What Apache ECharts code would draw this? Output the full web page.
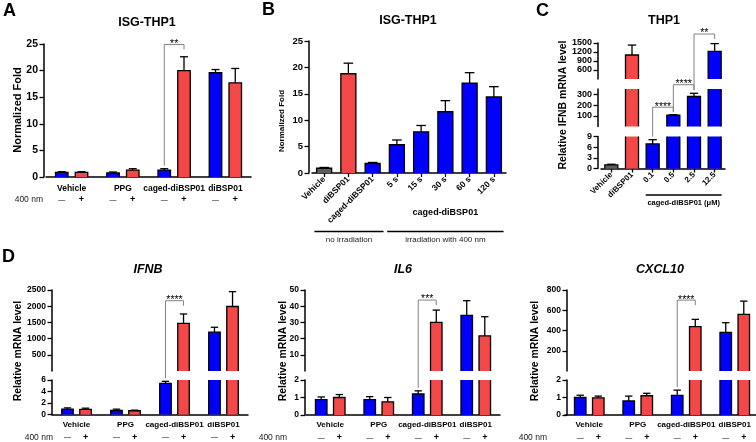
<!DOCTYPE html>
<html>
<head>
<meta charset="utf-8">
<script src="https://cdn.jsdelivr.net/npm/echarts@6/dist/echarts.min.js"></script>
<style>
  html, body { margin: 0; background: #fff; }
  #chart { width: 756px; height: 442px; }
</style>
</head>
<body>
<div id="chart"></div>
<script>
// ---- data ----
// A: ISG-THP1, normalized fold, without (—) / with (+) 400 nm
const groupCats = ['Vehicle', 'PPG', 'caged-diBSP01', 'diBSP01'];
const aDark = [0.88, 0.75, 1.3, 19.6];
const aDarkErr = [0.12, 0.19, 0.26, 0.6];
const aLight = [0.88, 1.3, 20.0, 17.7];
const aLightErr = [0.12, 0.26, 2.6, 2.7];

// B: irradiation time course
const bCats = ['Vehicle', 'diBSP01', 'caged-diBSP01', '5 s', '15 s', '30 s', '60 s', '120 s'];
const bVals = [0.9, 18.8, 1.8, 5.35, 7.8, 11.6, 17.0, 14.4];
const bErr = [0.15, 2.0, 0.2, 0.9, 1.2, 2.1, 2.0, 1.95];

// C: THP1, relative IFNB mRNA, dose series
const cCats = ['Vehicle', 'diBSP01', '0.1', '0.5', '2.5', '12.5'];
const cVals = [1.0, 1100, 6.9, 105, 280, 1220];
const cErr = [0.2, 330, 1.2, 5, 30, 260];

// D: relative mRNA levels
const ifnbDark = [0.93, 0.7, 5.4, 1200];
const ifnbDarkErr = [0.22, 0.23, 0.37, 150];
const ifnbLight = [0.9, 0.65, 1470, 1990];
const ifnbLightErr = [0.2, 0.1, 290, 460];
const il6Dark = [0.88, 0.88, 1.2, 34.3];
const il6DarkErr = [0.15, 0.17, 0.18, 9.1];
const il6Light = [1.0, 0.75, 30.0, 21.7];
const il6LightErr = [0.17, 0.25, 7.6, 11.8];
const cxclDark = [1.0, 0.8, 1.12, 382];
const cxclDarkErr = [0.13, 0.28, 0.3, 95];
const cxclLight = [0.98, 1.1, 438, 560];
const cxclLightErr = [0.1, 0.14, 72, 130];

const FONT = '"Liberation Sans", Arial, Helvetica, sans-serif';
const BLUE = '#0000ff', RED = '#f44848', GRAY = '#5e5e5e';
const bColors = [GRAY, RED, BLUE, BLUE, BLUE, BLUE, BLUE, BLUE];
const cColors = [GRAY, RED, BLUE, BLUE, BLUE, BLUE];

const chart = echarts.init(document.getElementById('chart'));

// ---- panel layouts ----
const pA = {
  cats: groupCats, left: 46, width: 205, shift: 2, bw: 12.5, gap: 58,
  tickFont: 10.5, catFont: 8.5, catMargin: 7, rotate: 0, xTicks: false,
  segs: [{ top: 44, height: 133, min: 0, max: 25, interval: 5 }],
  series: [{ data: aDark, err: aDarkErr, color: BLUE }, { data: aLight, err: aLightErr, color: RED }]
};
const pB = {
  cats: bCats, left: 312, width: 194, shift: 3, bw: 15, gap: 0,
  tickFont: 9.5, catFont: 8.5, catMargin: 5, rotate: 45, xTicks: true,
  segs: [{ top: 41, height: 132, min: 0, max: 25, interval: 5 }],
  series: [{ data: bVals, err: bErr, color: bColors }]
};
const pC = {
  cats: cCats, left: 601, width: 124, shift: 3, bw: 13, gap: 0,
  tickFont: 9, catFont: 8, catMargin: 5, rotate: 45, xTicks: true,
  segs: [
    { top: 43, height: 36, min: 300, max: 1500, interval: 300 },
    { top: 89, height: 37.5, min: 0, max: 350, interval: 100, hideMax: true },
    { top: 136.5, height: 32, min: 0, max: 9, interval: 3 }
  ],
  series: [{ data: cVals, err: cErr, color: cColors }]
};
const pIfnb = {
  cats: groupCats, left: 52, width: 196, shift: 0, bw: 11.5, gap: 57,
  tickFont: 8.5, catFont: 8, catMargin: 6, rotate: 0, xTicks: false,
  segs: [
    { top: 290, height: 81, min: 0, max: 2500, interval: 500 },
    { top: 380, height: 34.5, min: 0, max: 6, interval: 2 }
  ],
  series: [{ data: ifnbDark, err: ifnbDarkErr, color: BLUE }, { data: ifnbLight, err: ifnbLightErr, color: RED }]
};
const pIl6 = {
  cats: groupCats, left: 306, width: 194, shift: 1, bw: 11.5, gap: 57,
  tickFont: 8.5, catFont: 8, catMargin: 6, rotate: 0, xTicks: false,
  segs: [
    { top: 290, height: 81, min: 0, max: 50, interval: 10 },
    { top: 380, height: 35, min: 0, max: 2, interval: 1 }
  ],
  series: [{ data: il6Dark, err: il6DarkErr, color: BLUE }, { data: il6Light, err: il6LightErr, color: RED }]
};
const pCxcl = {
  cats: groupCats, left: 565, width: 194, shift: -2, bw: 11.5, gap: 57,
  tickFont: 8.5, catFont: 8, catMargin: 6, rotate: 0, xTicks: false,
  segs: [
    { top: 290, height: 81, min: 0, max: 800, interval: 200 },
    { top: 380, height: 35, min: 0, max: 2, interval: 1 }
  ],
  series: [{ data: cxclDark, err: cxclDarkErr, color: BLUE }, { data: cxclLight, err: cxclLightErr, color: RED }]
};
const panels = [pA, pB, pC, pIfnb, pIl6, pCxcl];

// significance brackets: [category, series] of both ends, segment and level of the top bar
const brackets = [
  { p: pA, a: [2, 0], b: [2, 1], seg: 0, level: 24.9, text: '**' },
  { p: pC, a: [2, 0], b: [3, 0], seg: 1, level: 180, text: '****' },
  { p: pC, a: [3, 0], b: [4, 0], seg: 1, level: 390, text: '****' },
  { p: pC, a: [4, 0], b: [5, 0], seg: 0, level: 1800, text: '**' },
  { p: pIfnb, a: [2, 0], b: [2, 1], seg: 0, level: 2170, text: '****' },
  { p: pIl6, a: [2, 0], b: [2, 1], seg: 0, level: 43.8, text: '***' },
  { p: pCxcl, a: [2, 0], b: [2, 1], seg: 0, level: 700, text: '****' }
];

function barX(p, k) {
  const n = p.series.length;
  return (k - (n - 1) / 2) * p.bw * (1 + p.gap / 100);
}
function floorOf(p, s) {
  return s === p.segs.length - 1 ? -Infinity : p.segs[s + 1].max;
}
function segOf(p, v) {
  for (let s = 0; s < p.segs.length; s++) {
    if (v > floorOf(p, s)) return s;
  }
  return p.segs.length - 1;
}

const grid = [], xAxis = [], yAxis = [], series = [];
panels.forEach(p => {
  p.gridIdx = [];
  p.segs.forEach((s, si) => {
    const gi = grid.length;
    const isBottom = si === p.segs.length - 1;
    const isTop = si === 0;
    const floor = floorOf(p, si);
    p.gridIdx.push(gi);
    grid.push({ left: p.left, top: s.top, width: p.width, height: s.height, outerBoundsMode: 'none' });
    xAxis.push({
      type: 'category', gridIndex: gi, data: p.cats, show: isBottom,
      axisLine: { onZero: false, lineStyle: { color: '#000', width: 1.5 } },
      axisTick: { show: p.xTicks, alignWithLabel: true, length: 4, lineStyle: { color: '#000', width: 1.3 } },
      axisLabel: {
        interval: 0, rotate: p.rotate, margin: p.catMargin, color: '#000',
        fontSize: p.catFont, fontWeight: 'bold', fontFamily: FONT
      },
      splitLine: { show: false }
    });
    yAxis.push({
      type: 'value', gridIndex: gi, min: s.min, max: s.max, interval: s.interval, offset: p.shift,
      axisLine: { show: true, onZero: false, lineStyle: { color: '#000', width: 1.5 } },
      axisTick: { show: true, length: 4.5, lineStyle: { color: '#000', width: 1.3 } },
      axisLabel: {
        margin: 6, color: '#000', fontSize: p.tickFont, fontWeight: 'bold', fontFamily: FONT,
        showMinLabel: isBottom, showMaxLabel: !s.hideMax,
        formatter: v => String(v)
      },
      splitLine: { show: false }
    });
    p.series.forEach((sr, k) => {
      const colorAt = i => Array.isArray(sr.color) ? sr.color[i] : sr.color;
      // filled bars, clipped to the segment
      series.push({
        type: 'bar', xAxisIndex: gi, yAxisIndex: gi, barWidth: p.bw, barGap: p.gap + '%',
        clip: true, silent: true,
        itemStyle: { borderWidth: 0 },
        data: sr.data.map((v, i) => v > floor ? { value: v, itemStyle: { color: colorAt(i) } } : '-')
      });
      // bar outline (open at the axis breaks) and error bar
      const off = barX(p, k);
      const half = p.bw / 2;
      const cap = p.bw * 0.32;
      series.push({
        type: 'custom', xAxisIndex: gi, yAxisIndex: gi, z: 5, silent: true, clip: false,
        encode: { x: 0, y: 1 },
        data: sr.data.map((v, i) => [i, v, sr.err[i]]).filter(d => d[1] > floor),
        renderItem: (params, api) => {
          const c = api.value(0), v = api.value(1), e = api.value(2);
          const inside = v <= s.max || isTop;
          const base = api.coord([c, Math.max(0, s.min)]);
          const top = api.coord([c, Math.min(v, s.max)]);
          const x = base[0] + off;
          const st = { stroke: '#000', lineWidth: 1.3, fill: null };
          const children = [];
          if (inside) {
            children.push({ type: 'polyline', shape: { points: [[x - half, base[1]], [x - half, top[1]], [x + half, top[1]], [x + half, base[1]]] }, style: st });
            const p1 = api.coord([c, v + e]);
            children.push({ type: 'line', shape: { x1: x, y1: top[1], x2: x, y2: p1[1] }, style: st });
            children.push({ type: 'line', shape: { x1: x - cap, y1: p1[1], x2: x + cap, y2: p1[1] }, style: st });
          } else {
            children.push({ type: 'line', shape: { x1: x - half, y1: base[1], x2: x - half, y2: top[1] }, style: st });
            children.push({ type: 'line', shape: { x1: x + half, y1: base[1], x2: x + half, y2: top[1] }, style: st });
          }
          return { type: 'group', children };
        }
      });
    });
  });
});

chart.setOption({
  animation: false,
  backgroundColor: '#fff',
  textStyle: { fontFamily: FONT },
  grid, xAxis, yAxis, series
});

// ---- annotations placed from the axes ----
function toPx(p, s, cat, val) {
  return chart.convertToPixel({ gridIndex: p.gridIdx[s] }, [cat, val]);
}
function barTop(p, cat, k) {
  const sr = p.series[k];
  const v = sr.data[cat] + sr.err[cat];
  const pt = toPx(p, segOf(p, sr.data[cat]), cat, v);
  return [pt[0] + barX(p, k), pt[1]];
}
function text(t, x, y, font, align, vAlign, extra, color) {
  return Object.assign({
    type: 'text', x, y, silent: true,
    style: {
      text: t, font: font + ' ' + FONT, fill: color || '#000',
      align, textAlign: align, verticalAlign: vAlign, textVerticalAlign: vAlign
    }
  }, extra || {});
}
function line(x1, y1, x2, y2, color, w) {
  return { type: 'line', silent: true, shape: { x1, y1, x2, y2 }, style: { stroke: color, lineWidth: w } };
}

const g = [];
// panel letters and titles
g.push(text('A', 3, 11, 'bold 18px', 'left', 'middle'));
g.push(text('B', 262, 10, 'bold 18px', 'left', 'middle'));
g.push(text('C', 536, 11, 'bold 18px', 'left', 'middle'));
g.push(text('D', 2, 257, 'bold 18px', 'left', 'middle'));
g.push(text('ISG-THP1', 147, 23, 'bold 12.5px', 'center', 'middle'));
g.push(text('ISG-THP1', 408, 21, 'bold 12.5px', 'center', 'middle'));
g.push(text('THP1', 664, 21, 'bold 12.5px', 'center', 'middle'));
g.push(text('IFNB', 148, 270, 'italic bold 12.5px', 'center', 'middle'));
g.push(text('IL6', 403, 270, 'italic bold 12.5px', 'center', 'middle'));
g.push(text('CXCL10', 660, 270, 'italic bold 12.5px', 'center', 'middle'));

// y axis names
const rot = { rotation: Math.PI / 2 };
g.push(text('Normalized Fold', 18, 110, 'bold 11px', 'center', 'middle', rot));
g.push(text('Normalized Fold', 282, 121, 'bold 8px', 'center', 'middle', rot));
g.push(text('Relative IFNB mRNA level', 563, 105, 'bold 10.5px', 'center', 'middle', rot));
g.push(text('Relative mRNA level', 18, 351, 'bold 10.4px', 'center', 'middle', rot));
g.push(text('Relative mRNA level', 283, 351, 'bold 10.4px', 'center', 'middle', rot));
g.push(text('Relative mRNA level', 535, 351, 'bold 10.4px', 'center', 'middle', rot));

// 400 nm rows with —/+ under each bar
[[pA, 43], [pIfnb, 53], [pIl6, 287], [pCxcl, 547]].forEach(([p, x400]) => {
  const last = p.segs.length - 1;
  const y = toPx(p, last, 0, 0)[1] + 23;
  g.push(text('400 nm', x400, y, '8.5px', 'right', 'middle', null, '#222'));
  p.cats.forEach((c, i) => {
    p.series.forEach((sr, k) => {
      const x = toPx(p, last, i, 0)[0] + barX(p, k);
      g.push(k === 0
        ? text('—', x, y, '7px', 'center', 'middle')
        : text('+', x, y, 'bold 9px', 'center', 'middle'));
    });
  });
});

// B: group label and irradiation lines
(function () {
  const last = pB.segs.length - 1;
  const cx = i => toPx(pB, last, i, 0)[0];
  const band = pB.width / pB.cats.length;
  g.push(text('caged-diBSP01', (cx(3) + cx(7)) / 2, 213, 'bold 9px', 'center', 'middle'));
  const x0 = cx(0) - band * 0.4, x1 = cx(2) + band * 0.45;
  const x2 = cx(3) - band * 0.4, x3 = cx(7) + band * 0.4;
  g.push(line(x0, 231.5, x1, 231.5, '#000', 1.5));
  g.push(line(x2, 231.5, x3, 231.5, '#000', 1.5));
  g.push(text('no irradiation', (x0 + x1) / 2, 240, '8px', 'center', 'middle', null, '#222'));
  g.push(text('irradiation with 400 nm', (x2 + x3) / 2, 240, '8px', 'center', 'middle', null, '#222'));
})();

// C: dose label
(function () {
  const last = pC.segs.length - 1;
  const x0 = toPx(pC, last, 2, 0)[0] - 7, x1 = toPx(pC, last, 5, 0)[0] + 7;
  g.push(line(x0, 195, x1, 195, '#000', 1.5));
  g.push(text('caged-diBSP01 (μM)', (x0 + x1) / 2, 203, 'bold 7.5px', 'center', 'middle'));
})();

// significance brackets
brackets.forEach(br => {
  const a = barTop(br.p, br.a[0], br.a[1]);
  const b = barTop(br.p, br.b[0], br.b[1]);
  const yTop = toPx(br.p, br.seg, br.a[0], br.level)[1];
  g.push({
    type: 'polyline', silent: true,
    shape: { points: [[a[0], a[1] - 3], [a[0], yTop], [b[0], yTop], [b[0], yTop + 5]] },
    style: { stroke: '#808080', lineWidth: 1, fill: null }
  });
  g.push(text(br.text, (a[0] + b[0]) / 2, yTop - 0.5, '10.5px', 'center', 'middle'));
});

chart.setOption({ graphic: g });
</script>
</body>
</html>
